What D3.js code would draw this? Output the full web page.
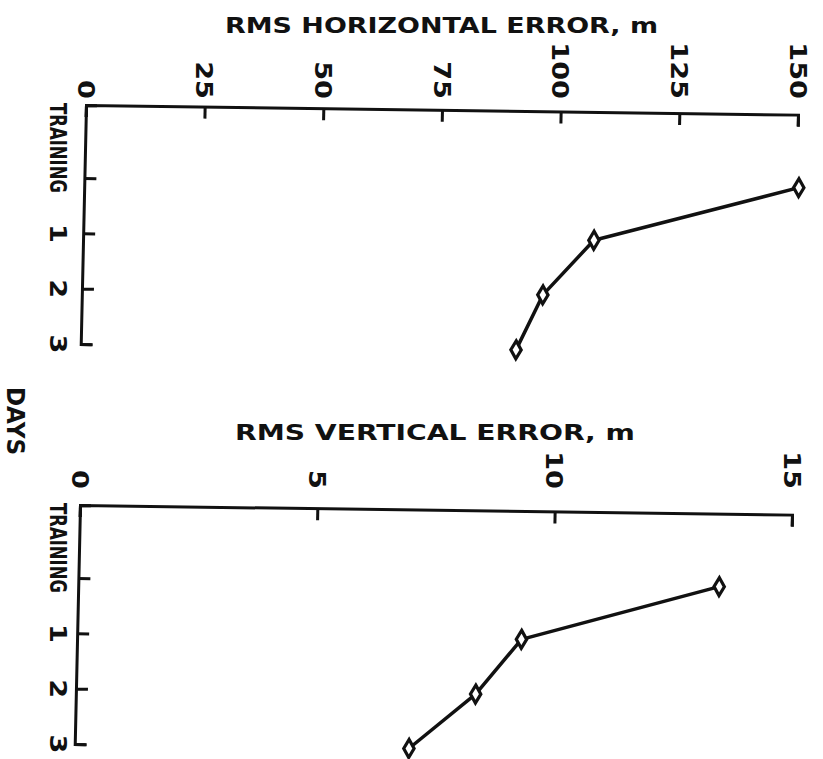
<!DOCTYPE html>
<html><head><meta charset="utf-8">
<script src="https://cdn.jsdelivr.net/npm/d3@7"></script>
<style>body{margin:0;background:#fff}</style>
</head><body>
<svg id="c" width="823" height="759"></svg>
<script>
const dayLabels = ["TRAINING", "1", "2", "3"];
const dayIndex = [0, 1, 2, 3];
const horizontalError = [150.5, 107.6, 97.1, 91.7];
const verticalError = [13.5, 9.36, 8.42, 7.04];
const horizontalTicks = [0, 25, 50, 75, 100, 125, 150];
const verticalTicks = [0, 5, 10, 15];

const svg = d3.select("#c");
const ink = "#111";
const font = "'DejaVu Sans', sans-serif";
const W = 712, H = 239;
const y = d3.scaleLinear().domain([-1.32, 3]).range([0, H]);

const panels = [
  {title: "RMS HORIZONTAL ERROR, m", values: horizontalError, ticks: horizontalTicks, max: 150,
   ox: 86, oy: 105, titleX: 225, titleW: 433, titleY: 33, labelY: 99},
  {title: "RMS VERTICAL ERROR, m", values: verticalError, ticks: verticalTicks, max: 15,
   ox: 80, oy: 505, titleX: 235, titleW: 400, titleY: 440, labelY: 489}
];

panels.forEach(p => {
  const x = d3.scaleLinear().domain([0, p.max]).range([0, W]);
  const g = svg.append("g").attr("transform", `translate(${p.ox},${p.oy})`);
  const s = g.append("g").attr("transform", "matrix(1,0.0135,-0.022,1,0,0)");

  const ax = s.append("g").call(d3.axisTop(x).tickValues(p.ticks)
    .tickSizeInner(-12).tickSizeOuter(-12).tickFormat(""));
  const ay = s.append("g").call(d3.axisLeft(y).tickValues(dayIndex)
    .tickSizeInner(-12).tickSizeOuter(-11).tickFormat(""));
  [ax, ay].forEach(a => {
    a.selectAll("path,line").attr("stroke", ink).attr("stroke-width", 3);
    a.select(".domain").attr("fill", "none");
  });

  // data line
  s.append("path")
    .datum(p.values.map((v, i) => [x(v), y(dayIndex[i])]))
    .attr("d", d3.line())
    .attr("fill", "none").attr("stroke", ink).attr("stroke-width", 3.5)
    .attr("stroke-linejoin", "round");

  s.selectAll(".mk").data(p.values).join("path")
    .attr("d", d3.symbol(d3.symbolDiamond, 93))
    .attr("transform", (v, i) => `translate(${x(v)},${y(dayIndex[i])})`)
    .attr("fill", "#fff").attr("stroke", ink).attr("stroke-width", 3.2);

  // top tick labels (rotated)
  g.selectAll(".tl").data(p.ticks).join("text")
    .attr("transform", d => `translate(${x(d)},${p.labelY - p.oy}) rotate(90) scale(1.18,1)`)
    .attr("text-anchor", "end").attr("dy", "0.36em")
    .attr("font-family", font).attr("font-weight", "bold").attr("font-size", 23)
    .attr("fill", ink).text(d => d);

  // left labels
  g.selectAll(".dl").data(dayIndex.slice(1)).join("text")
    .attr("transform", d => `translate(${58.5 - p.ox},${y(d)}) rotate(90) scale(1.18,1)`)
    .attr("text-anchor", "middle").attr("dy", "0.36em")
    .attr("font-family", font).attr("font-weight", "bold").attr("font-size", 23)
    .attr("fill", ink).text(d => dayLabels[d]);

  g.append("text")
    .attr("transform", `translate(${58.5 - p.ox},-2) rotate(90)`)
    .attr("text-anchor", "start").attr("dy", "0.36em")
    .attr("font-family", font).attr("font-weight", "bold").attr("font-size", 23)
    .attr("textLength", 90).attr("lengthAdjust", "spacingAndGlyphs")
    .attr("fill", ink).text(dayLabels[0]);

  svg.append("text")
    .attr("x", p.titleX).attr("y", p.titleY)
    .attr("font-family", font).attr("font-weight", "bold").attr("font-size", 22)
    .attr("textLength", p.titleW).attr("lengthAdjust", "spacingAndGlyphs")
    .attr("fill", ink).text(p.title);
});

svg.append("text")
  .attr("transform", "translate(16,421) rotate(90)")
  .attr("text-anchor", "middle").attr("dy", "0.36em")
  .attr("font-family", font).attr("font-weight", "bold").attr("font-size", 25)
  .attr("textLength", 68).attr("lengthAdjust", "spacingAndGlyphs")
  .attr("fill", ink).text("DAYS");
</script>
</body></html>
